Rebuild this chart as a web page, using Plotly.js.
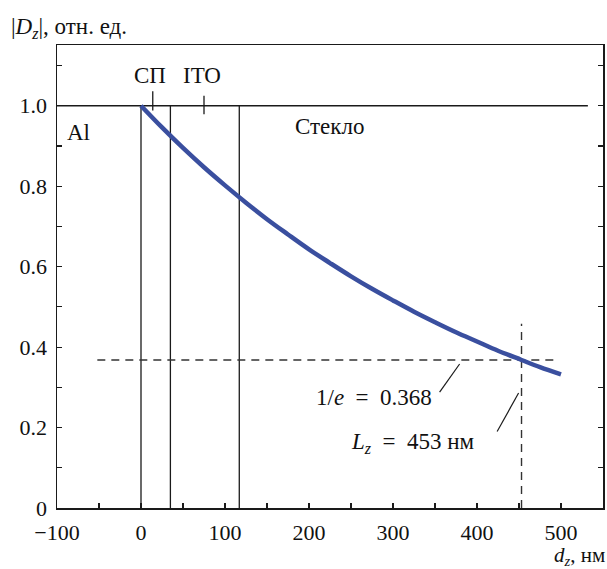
<!DOCTYPE html>
<html>
<head>
<meta charset="utf-8">
<script src="https://cdn.plot.ly/plotly-3.0.1.min.js"></script>
<style>html,body{margin:0;padding:0;background:#fff;}#chart{width:607px;height:569px;}</style>
</head>
<body>
<div id="chart"></div>
<script>
// Data
const depth = [0, 25, 50, 75, 100, 125, 150, 175, 200, 225, 250, 275, 300, 325, 350, 375, 400, 425, 453, 475, 500];
const field = [1.000, 0.946, 0.895, 0.847, 0.802, 0.759, 0.718, 0.680, 0.643, 0.609, 0.576, 0.545, 0.516, 0.488, 0.462, 0.437, 0.414, 0.391, 0.368, 0.350, 0.332];
const layerBounds = [0, 35, 117];
const layerMarks = [14, 75];
const layerNames = ["СП", "ITO"];
const topLevel = 1.0;
const topLineX = [-100, 532];
const invE = 0.368;
const invEX = [-52, 494];
const Lz = 453;
const LzTop = 0.458;
const xTickVals = [-100, -50, 0, 50, 100, 150, 200, 250, 300, 350, 400, 450, 500];
const xTickText = ["−100", "", "0", "", "100", "", "200", "", "300", "", "400", "", "500"];
const yTickVals = [0, 0.1, 0.2, 0.3, 0.4, 0.5, 0.6, 0.7, 0.8, 0.9, 1.0, 1.1];
const yTickText = ["0", "", "0.2", "", "0.4", "", "0.6", "", "0.8", "", "1.0", ""];

const FONT = "Liberation Serif";
const FS = 22;   // tick labels
const AS = 23;   // annotations
const ink = "#1a1a1a";
const sp = "\u2002";

const traces = [];
traces.push({x: topLineX, y: [topLevel, topLevel], mode: "lines", line: {color: ink, width: 1.3}, hoverinfo: "skip"});
layerBounds.forEach(b => traces.push({x: [b, b], y: [0, topLevel], mode: "lines", line: {color: ink, width: 1.3}, hoverinfo: "skip"}));
traces.push({x: [layerMarks[0], layerMarks[0]], y: [0.988, 1.036], mode: "lines", line: {color: ink, width: 1.3}, hoverinfo: "skip"});
traces.push({x: [layerMarks[1], layerMarks[1]], y: [0.979, 1.025], mode: "lines", line: {color: ink, width: 1.3}, hoverinfo: "skip"});
traces.push({x: invEX, y: [invE, invE], mode: "lines", line: {color: "#333", width: 1.4, dash: "8px,6px"}, hoverinfo: "skip"});
traces.push({x: [Lz, Lz], y: [0, LzTop], mode: "lines", line: {color: "#333", width: 1.4, dash: "8px,6px"}, hoverinfo: "skip"});
traces.push({x: [355.5, 379.3], y: [0.288, 0.358], mode: "lines", line: {color: ink, width: 1.2}, hoverinfo: "skip"});
traces.push({x: [424, 449.5], y: [0.19, 0.286], mode: "lines", line: {color: ink, width: 1.2}, hoverinfo: "skip"});
traces.push({x: depth, y: field, mode: "lines", line: {color: "#3a4f9f", width: 4.5, shape: "spline"}, hoverinfo: "skip"});

const L = 56.7, R = 602.7, T = 45, B = 508.3;
const px = v => (v - L) / (R - L);
const py = v => (B - v) / (B - T);
function ann(text, x, y, xanchor, size) {
  return {text, xref: "paper", yref: "paper", x: px(x), y: py(y), xanchor, yanchor: "middle",
          showarrow: false, font: {family: FONT, size: size || AS, color: "#111"}, borderpad: 0};
}
const annotations = [
  ann("|<i>D<sub>z</sub></i>|, отн. ед.", 10, 28, "left"),
  ann(layerNames[0], 150, 76, "center"),
  ann(layerNames[1], 202, 76, "center"),
  ann("Al", 66, 133, "left"),
  ann("Стекло", 294, 127, "left"),
  ann("1/<i>e</i>" + sp + "=" + sp + "0.368", 433, 398, "right"),
  ann("<i>L<sub>z</sub></i>" + sp + "=" + sp + "453 нм", 350, 443, "left"),
  ann("<i>d<sub>z</sub></i>, нм", 606, 556, "right", 21)
];

const layout = {
  width: 607, height: 569,
  margin: {l: L, r: 607 - R, t: T, b: 569 - B, pad: 0},
  paper_bgcolor: "#fff", plot_bgcolor: "#fff",
  showlegend: false,
  font: {family: FONT, size: FS, color: "#111"},
  xaxis: {range: [-100, 550], tickvals: xTickVals, ticktext: xTickText, ticks: "inside", ticklen: 5,
          tickwidth: 1.2, tickcolor: ink, showline: true, linecolor: ink, linewidth: 1.5, mirror: true,
          showgrid: false, zeroline: false, ticklabelstandoff: 4, tickfont: {family: FONT, size: FS, color: "#111"}},
  yaxis: {range: [0, 1.151], tickvals: yTickVals, ticktext: yTickText, ticks: "inside", ticklen: 5,
          tickwidth: 1.2, tickcolor: ink, showline: true, linecolor: ink, linewidth: 1.5, mirror: "ticks",
          showgrid: false, zeroline: false, ticklabelstandoff: 4, tickfont: {family: FONT, size: FS, color: "#111"}},
  annotations
};
Plotly.newPlot("chart", traces, layout, {staticPlot: true, displayModeBar: false});
</script>
</body>
</html>
